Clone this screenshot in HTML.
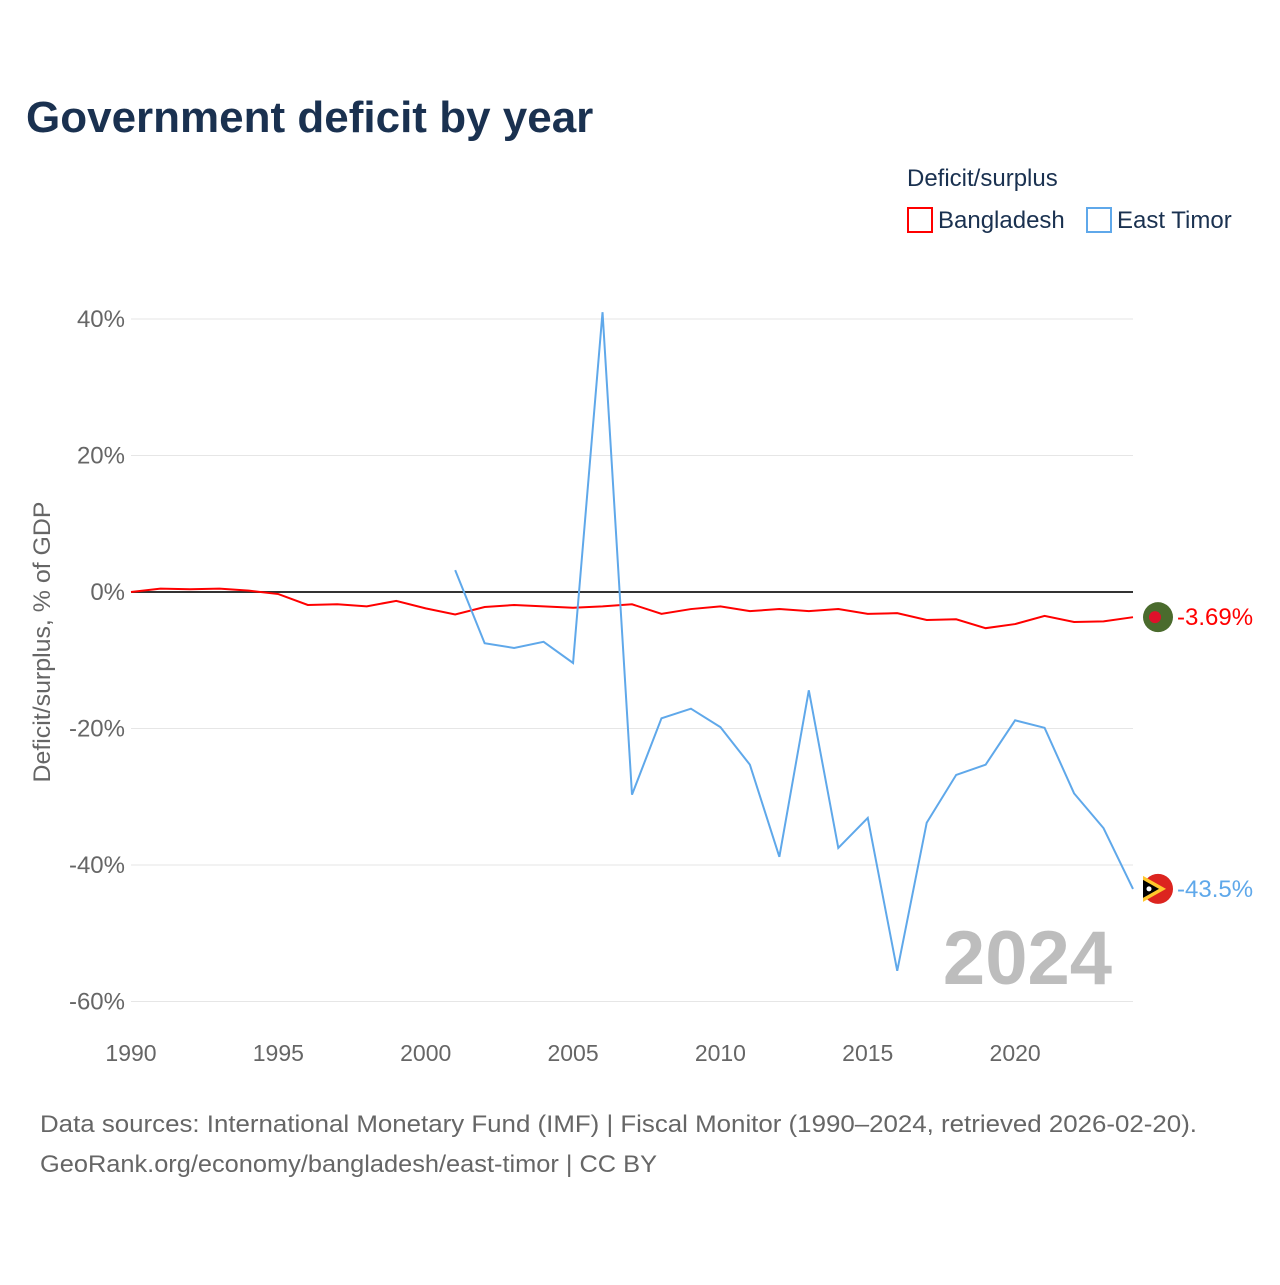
<!DOCTYPE html>
<html><head><meta charset="utf-8">
<style>
body{margin:0;background:#fff;}
svg text{font-family:"Liberation Sans",sans-serif;}
</style></head>
<body>
<svg id="chart" width="1280" height="1280" viewBox="0 0 1280 1280" xmlns="http://www.w3.org/2000/svg">
<rect width="1280" height="1280" fill="#fff"/>
<text x="26" y="132" font-size="44" font-weight="bold" fill="#1a3150">Government deficit by year</text>
<text x="907" y="186" font-size="24" fill="#1a3150">Deficit/surplus</text>
<g>
<rect x="908" y="208" width="24" height="24" fill="none" stroke="#ff0000" stroke-width="2"/>
<text x="938" y="228" font-size="24" fill="#1a3150">Bangladesh</text></g>
<g>
<rect x="1087" y="208" width="24" height="24" fill="none" stroke="#5fa8ea" stroke-width="2"/>
<text x="1117" y="228" font-size="24" fill="#1a3150">East Timor</text></g>
<g id="grid"></g><g id="xticks"></g><g id="series"></g>
<text transform="translate(50,642) rotate(-90)" text-anchor="middle" font-size="24" textLength="281" lengthAdjust="spacingAndGlyphs" fill="#666">Deficit/surplus, % of GDP</text>
<text x="1112" y="984" text-anchor="end" font-size="76" font-weight="bold" fill="#bdbdbd">2024</text>
<text x="40" y="1132" font-size="24" textLength="1157" lengthAdjust="spacingAndGlyphs" fill="#666">Data sources: International Monetary Fund (IMF) | Fiscal Monitor (1990–2024, retrieved 2026-02-20).</text>
<text x="40" y="1172" font-size="24" textLength="617" lengthAdjust="spacingAndGlyphs" fill="#666">GeoRank.org/economy/bangladesh/east-timor | CC BY</text>
</svg>
<script>
const years=[];for(let y=1990;y<=2024;y++)years.push(y);
const bangladesh=[0,0.5,0.4,0.5,0.2,-0.3,-1.9,-1.8,-2.1,-1.3,-2.4,-3.3,-2.2,-1.9,-2.1,-2.3,-2.1,-1.8,-3.2,-2.5,-2.1,-2.8,-2.5,-2.8,-2.5,-3.2,-3.1,-4.1,-4.0,-5.3,-4.7,-3.5,-4.4,-4.3,-3.69];
const timorYears=[2001,2002,2003,2004,2005,2006,2007,2008,2009,2010,2011,2012,2013,2014,2015,2016,2017,2018,2019,2020,2021,2022,2023,2024];
const eastTimor=[3.2,-7.5,-8.2,-7.3,-10.4,41,-29.7,-18.5,-17.1,-19.8,-25.3,-38.8,-14.4,-37.5,-33.1,-55.5,-33.8,-26.8,-25.3,-18.8,-19.9,-29.5,-34.6,-43.5];
const yTicks=[40,20,0,-20,-40,-60];
const xTicks=[1990,1995,2000,2005,2010,2015,2020];
const NS='http://www.w3.org/2000/svg';
const X=y=>131+(y-1990)*(1133-131)/34;
const Y=v=>592-v*6.825;
function mk(tag,attrs,parent,text){const e=document.createElementNS(NS,tag);for(const k in attrs)e.setAttribute(k,attrs[k]);if(text!==undefined)e.textContent=text;parent.appendChild(e);return e;}
const grid=document.getElementById('grid');
yTicks.forEach(t=>{
 const l=mk('line',{x1:131,x2:1133,y1:Y(t),y2:Y(t),stroke:t===0?'#333':'#e6e6e6','stroke-width':t===0?2:1},grid);
 
 
 const tx=mk('text',{x:125,y:Y(t)+8,'text-anchor':'end','font-size':24,fill:'#666'},grid,t+'%');
 
 
});
const xt=document.getElementById('xticks');
xTicks.forEach(t=>{
 const tx=mk('text',{x:X(t),y:1061,'text-anchor':'middle','font-size':23,fill:'#666'},xt,String(t));
 
 
});
const s=document.getElementById('series');
const p1=mk('polyline',{points:years.map((y,i)=>X(y)+','+Y(bangladesh[i])).join(' '),fill:'none',stroke:'#ff0000','stroke-width':2},s);


const p2=mk('polyline',{points:timorYears.map((y,i)=>X(y)+','+Y(eastTimor[i])).join(' '),fill:'none',stroke:'#5fa8ea','stroke-width':2},s);


const bv=bangladesh[bangladesh.length-1], tv=eastTimor[eastTimor.length-1];
const f1=mk('g',{},s);


mk('circle',{cx:1158,cy:Y(bv),r:15,fill:'#4a6b2d'},f1);
mk('circle',{cx:1155,cy:Y(bv),r:6,fill:'#e0102a'},f1);
const l1=mk('text',{x:1177,y:Y(bv)+8,'font-size':24,fill:'#ff0000'},s,bv.toFixed(2)+'%');


const f2=mk('g',{},s);


const cy=Y(tv);
mk('circle',{cx:1158,cy:cy,r:15,fill:'#dc241f'},f2);
mk('polygon',{points:`1143,${cy-13} 1166,${cy} 1143,${cy+13}`,fill:'#ffc72c'},f2);
mk('polygon',{points:`1143,${cy-9} 1159,${cy} 1143,${cy+9}`,fill:'#000'},f2);
mk('circle',{cx:1149,cy:cy,r:2.5,fill:'#fff'},f2);
const l2=mk('text',{x:1177,y:cy+8,'font-size':24,fill:'#5fa8ea'},s,tv.toFixed(1)+'%');


</script>
</body></html>
